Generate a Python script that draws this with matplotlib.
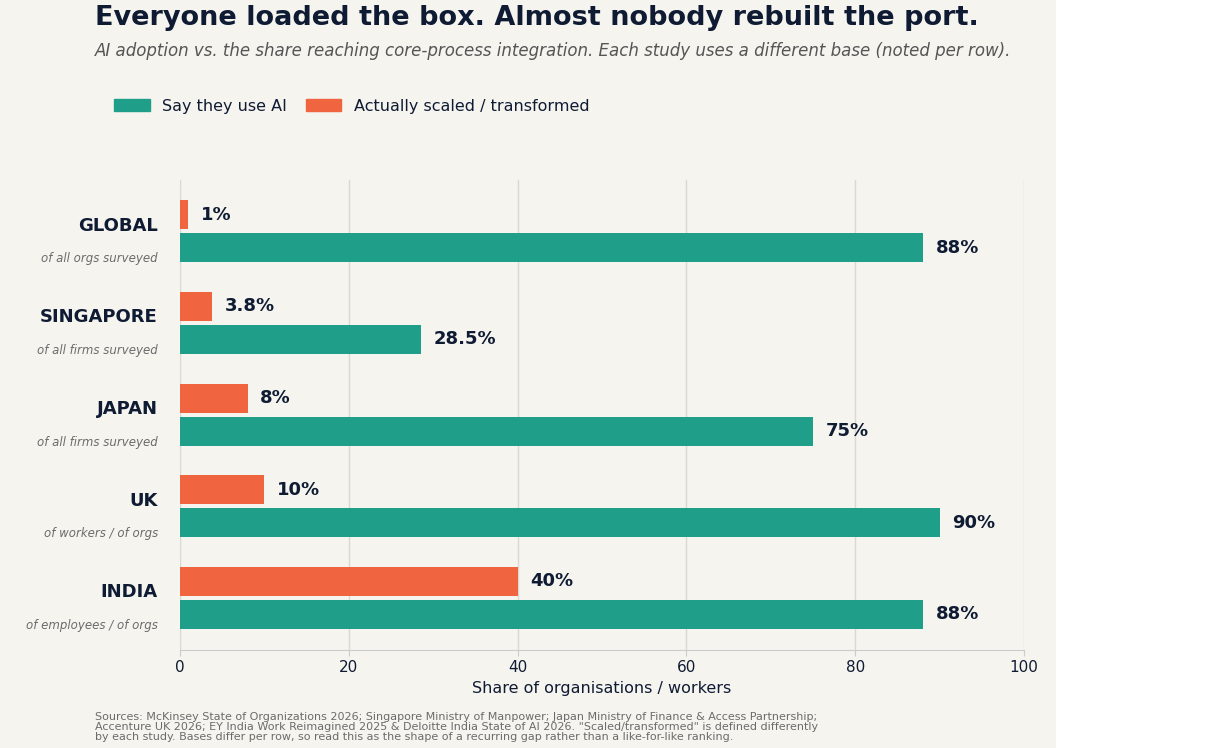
import matplotlib
matplotlib.use("Agg")
import matplotlib.pyplot as plt
from matplotlib.patches import Rectangle, Patch
import matplotlib.transforms as mtransforms

regions = ["GLOBAL", "SINGAPORE", "JAPAN", "UK", "INDIA"]
bases = ["of all orgs surveyed", "of all firms surveyed", "of all firms surveyed",
         "of workers / of orgs", "of employees / of orgs"]
use_ai = [88, 28.5, 75, 90, 88]
scaled = [1, 3.8, 8, 10, 40]
use_labels = ["88%", "28.5%", "75%", "90%", "88%"]
scaled_labels = ["1%", "3.8%", "8%", "10%", "40%"]

BG = "#f5f4ef"
TEAL = "#1f9e89"
ORANGE = "#f06440"
NAVY = "#0f1b33"
GREY = "#6b6b6b"

fig = plt.figure(figsize=(12.06, 7.48), dpi=100, facecolor="white")
fig.patches.append(Rectangle((0, 0), 1056 / 1206, 1, transform=fig.transFigure,
                             facecolor=BG, edgecolor="none", zorder=-10))
ax = fig.add_axes([180 / 1206, 98 / 748, 844 / 1206, 470 / 748])
ax.set_facecolor(BG)

h = 0.316
for i in range(len(regions)):
    ax.barh(i - 0.18, scaled[i], height=h, color=ORANGE, zorder=3)
    ax.barh(i + 0.18, use_ai[i], height=h, color=TEAL, zorder=3)
    ax.text(scaled[i] + 1.5, i - 0.18, scaled_labels[i], va="center", ha="left",
            fontsize=13, fontweight="bold", color=NAVY)
    ax.text(use_ai[i] + 1.5, i + 0.18, use_labels[i], va="center", ha="left",
            fontsize=13, fontweight="bold", color=NAVY)

trans = mtransforms.blended_transform_factory(fig.transFigure, ax.transData)
for i, (r, b) in enumerate(zip(regions, bases)):
    fig.text(158 / 1206, i - 0.06, r, transform=trans, ha="right", va="center",
             fontsize=13, fontweight="bold", color=NAVY)
    fig.text(158 / 1206, i + 0.30, b, transform=trans, ha="right", va="center",
             fontsize=8.5, style="italic", color=GREY)

ax.set_xlim(0, 100)
ax.set_ylim(4.57, -0.56)
ax.set_yticks([])
ax.set_xticks([0, 20, 40, 60, 80, 100])
ax.tick_params(axis="x", labelsize=11, colors="#cccccc", labelcolor=NAVY, length=4)
ax.grid(axis="x", color="#d9d8d3", linewidth=1, zorder=0)
for s in ["top", "right", "left"]:
    ax.spines[s].set_visible(False)
ax.spines["bottom"].set_color("#cccccc")
ax.set_xlabel("Share of organisations / workers", fontsize=11.5, color=NAVY)

fig.text(95 / 1206, 1 - 18 / 748, "Everyone loaded the box. Almost nobody rebuilt the port.",
         fontsize=19.5, fontweight="bold", color=NAVY, va="center")
fig.text(95 / 1206, 1 - 51 / 748,
         "AI adoption vs. the share reaching core-process integration. Each study uses a different base (noted per row).",
         fontsize=12, style="italic", color="#555555", va="center")

handles = [Patch(color=TEAL, label="Say they use AI"),
           Patch(color=ORANGE, label="Actually scaled / transformed")]
fig.legend(handles=handles, loc="center left", bbox_to_anchor=(100 / 1206, 1 - 106 / 748),
           ncol=2, frameon=False, fontsize=11.5, handlelength=2.2, handleheight=0.8,
           columnspacing=1.2, labelcolor=NAVY)

fig.text(95 / 1206, 1 - 727 / 748,
         "Sources: McKinsey State of Organizations 2026; Singapore Ministry of Manpower; Japan Ministry of Finance & Access Partnership;\n"
         "Accenture UK 2026; EY India Work Reimagined 2025 & Deloitte India State of AI 2026. \"Scaled/transformed\" is defined differently\n"
         "by each study. Bases differ per row, so read this as the shape of a recurring gap rather than a like-for-like ranking.",
         fontsize=8, color=GREY, va="center", linespacing=1.0)

fig.savefig("out.png", dpi=100, facecolor="white")
